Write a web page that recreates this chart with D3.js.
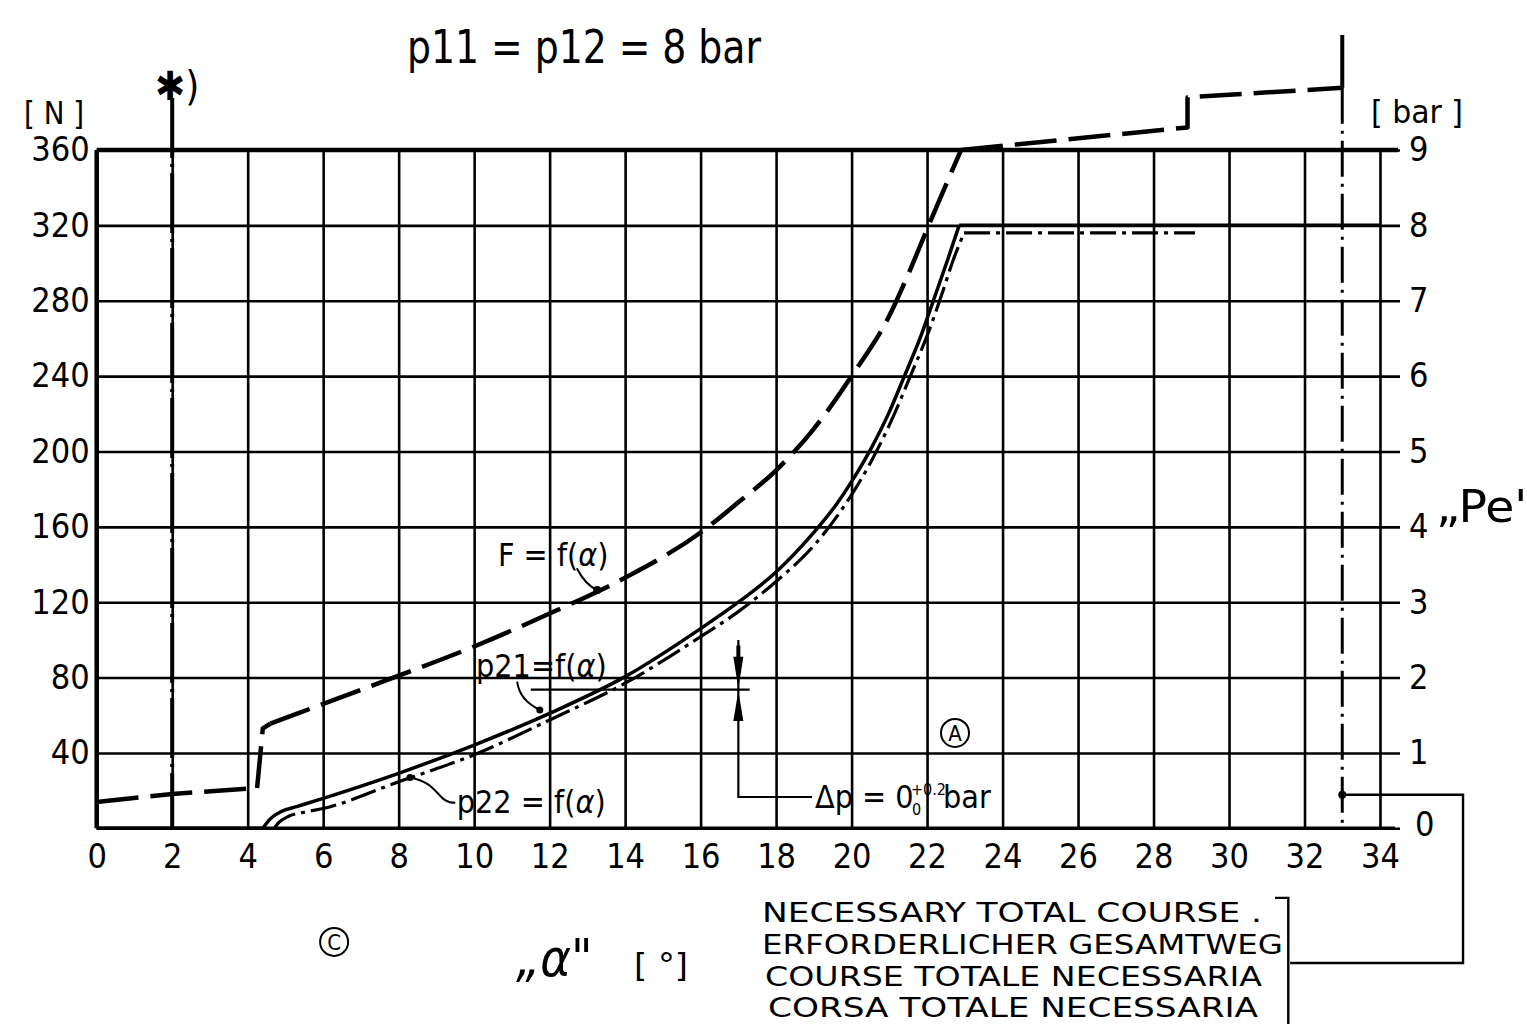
<!DOCTYPE html>
<html>
<head>
<meta charset="utf-8">
<script src="https://cdn.jsdelivr.net/npm/d3@7/dist/d3.min.js"></script>
<style>
  body { margin: 0; background: #fff; }
  svg text { font-family: "DejaVu Sans Condensed", "DejaVu Sans", sans-serif; font-stretch: condensed; fill: #000; }
</style>
</head>
<body>
<div id="chart"></div>
<script>

// tick labels
var alphaTicks = [0, 2, 4, 6, 8, 10, 12, 14, 16, 18, 20, 22, 24, 26, 28, 30, 32, 34];
var forceTicks = [40, 80, 120, 160, 200, 240, 280, 320, 360];
var barTicks = [0, 1, 2, 3, 4, 5, 6, 7, 8, 9];

// F = f(alpha)  [N]
var fLowAlpha = [0, 2, 4.25];
var fLowForce = [14, 18.2, 21.4];
var fRiseAlpha = [4.25, 4.4, 4.6];
var fRiseForce = [21.4, 53, 55.5];
var fCurveAlpha = [4.6, 6, 8, 10, 12, 14, 16, 17, 18, 19, 20, 21, 21.5, 22, 22.9];
var fCurveForce = [55.5, 66, 81, 96.5, 114, 133, 157, 173, 190, 212, 240, 272, 294, 318, 360];
var fTopAlpha = [22.9, 28.9, 28.9, 33];
var fTopForce = [360, 372, 388, 393];

// p21 = f(alpha)  (40 N grid = 1 bar)
var p21LowAlpha = [0, 4.4];
var p21LowForce = [0, 0];
var p21CurveAlpha = [4.4, 4.6, 4.9, 5.3, 6, 8, 10, 12, 14, 16, 17, 18, 19, 19.6, 20, 20.5, 21, 21.4, 21.85, 22.2, 22.55, 22.85];
var p21CurveForce = [0, 5, 9, 11.5, 15.9, 29.2, 44.2, 61, 80.5, 106, 120, 136, 157, 172, 184, 201, 221, 240, 262, 282, 302, 320];
var p21TopAlpha = [22.85, 34];
var p21TopForce = [320, 320];

// p22 = f(alpha)
var p22CurveAlpha = [4.7, 4.85, 5.1, 5.5, 6, 8, 10, 12, 14, 16, 17, 18, 19, 19.7, 20, 20.5, 21, 21.6, 22.05, 22.4, 22.7, 22.98];
var p22CurveForce = [0, 3.5, 6.5, 8.5, 10.5, 24.7, 39, 57.5, 77, 101.7, 115, 131, 150, 168, 177, 194, 214, 242, 264, 284, 302, 316];
var p22TopAlpha = [22.98, 29.1];
var p22TopForce = [316, 316];

// caption lines
var captionLines = ['NECESSARY  TOTAL  COURSE .', 'ERFORDERLICHER  GESAMTWEG', 'COURSE TOTALE NECESSARIA', 'CORSA  TOTALE NECESSARIA'];

var width = 1527,
    height = 1024;

var xS = d3.scaleLinear().domain([0, 34]).range([96.7, 1380]);
var yS = d3.scaleLinear().domain([0, 360]).range([828.3, 150]);
var yBar = d3.scaleLinear().domain([0, 9]).range([828.3, 150]);

var svg = d3.select('#chart')
  .append('svg')
  .attr('width', width)
  .attr('height', height);

// vertical grid + alpha labels
var gx = svg.append('g')
  .attr('transform', 'translate(0,' + yS(0) + ')')
  .call(d3.axisBottom(xS).tickValues(alphaTicks).tickSize(yS(360) - yS(0)).tickPadding(16).tickFormat(d3.format('d')));
gx.select('.domain').remove();
gx.selectAll('line').attr('stroke', '#000').attr('stroke-width', 2.6);
gx.selectAll('text').attr('font-size', 34);

// horizontal grid + bar labels on the right
var gy = svg.append('g')
  .attr('transform', 'translate(' + xS(0) + ',0)')
  .call(d3.axisRight(yBar).tickValues(barTicks).tickSize(1400 - xS(0)).tickPadding(9).tickFormat(d3.format('d')));
gy.select('.domain').remove();
gy.selectAll('line').attr('stroke', '#000').attr('stroke-width', 2.6);
gy.selectAll('text').attr('font-size', 34);
gy.selectAll('.tick').filter(function(d) { return d == 0; })
  .select('text').attr('dx', 6).attr('dy', '0.2em');

// force labels on the left
var gl = svg.append('g')
  .attr('transform', 'translate(' + xS(0) + ',0)')
  .call(d3.axisLeft(yS).tickValues(forceTicks).tickSize(0).tickPadding(7));
gl.select('.domain').remove();
gl.selectAll('text').attr('font-size', 34);

// borders
svg.append('line')
  .attr('x1', xS(0)).attr('x2', xS(0))
  .attr('y1', yS(360)).attr('y2', yS(0))
  .attr('stroke', '#000').attr('stroke-width', 4.5);
svg.append('line')
  .attr('x1', xS(0)).attr('x2', 1398)
  .attr('y1', yS(360)).attr('y2', yS(360))
  .attr('stroke', '#000').attr('stroke-width', 4.5);
svg.append('line')
  .attr('x1', xS(0)).attr('x2', 1395)
  .attr('y1', yS(0)).attr('y2', yS(0))
  .attr('stroke', '#000').attr('stroke-width', 3.5);

// vertical marker at alpha = 2
svg.append('line')
  .attr('x1', xS(2)).attr('x2', xS(2))
  .attr('y1', 98).attr('y2', yS(0))
  .attr('stroke', '#000').attr('stroke-width', 4)
  .attr('stroke-dasharray', '60,6,3,6');

// vertical marker at alpha = 33 (total course)
svg.append('line')
  .attr('x1', xS(33)).attr('x2', xS(33))
  .attr('y1', 35).attr('y2', yS(393))
  .attr('stroke', '#000').attr('stroke-width', 4);
svg.append('line')
  .attr('x1', xS(33)).attr('x2', xS(33))
  .attr('y1', yS(393)).attr('y2', yS(0))
  .attr('stroke', '#000').attr('stroke-width', 3)
  .attr('stroke-dasharray', '36,7,3,7');

var line = (curve) => d3.line()
  .x(function(d) { return xS(d[0]); })
  .y(function(d) { return yS(d[1]); })
  .curve(curve);

var drawSeries = (pieces, style) => {
  pieces.forEach(function(p) {
    svg.append('path')
      .datum(d3.zip(p[0], p[1]))
      .attr('d', line(p[2]))
      .attr('fill', 'none')
      .attr('stroke', '#000')
      .attr('stroke-width', style.w)
      .attr('stroke-linejoin', 'round')
      .attr('stroke-dasharray', style.dash);
  });
};

drawSeries([
  [fLowAlpha, fLowForce, d3.curveLinear],
  [fRiseAlpha, fRiseForce, d3.curveLinear],
  [fCurveAlpha, fCurveForce, d3.curveMonotoneX],
  [fTopAlpha, fTopForce, d3.curveLinear]
], {w: 4.5, dash: '42,12'});

drawSeries([
  [p21LowAlpha, p21LowForce, d3.curveLinear],
  [p21CurveAlpha, p21CurveForce, d3.curveMonotoneX],
  [p21TopAlpha, p21TopForce, d3.curveLinear]
], {w: 3.5, dash: null});

drawSeries([
  [p22CurveAlpha, p22CurveForce, d3.curveMonotoneX],
  [p22TopAlpha, p22TopForce, d3.curveLinear]
], {w: 3.2, dash: '26,6,4,6'});

// tolerance marker (delta p)
var mx = xS(17);
svg.append('line')
  .attr('x1', xS(11.5)).attr('x2', xS(17.3))
  .attr('y1', yS(73.6)).attr('y2', yS(73.6))
  .attr('stroke', '#000').attr('stroke-width', 2.2);
svg.append('path')
  .attr('d', 'M' + mx + ',' + yS(100) + 'V' + yS(16.6) + 'H' + xS(18.95))
  .attr('fill', 'none').attr('stroke', '#000').attr('stroke-width', 2.2);
svg.append('path')
  .attr('d', 'M' + (mx - 5) + ',' + yS(91) + 'L' + (mx + 5) + ',' + yS(91) + 'L' + mx + ',' + (yS(73.6) - 1) + 'Z')
  .attr('fill', '#000');
svg.append('path')
  .attr('d', 'M' + (mx - 5) + ',' + yS(57) + 'L' + (mx + 5) + ',' + yS(57) + 'L' + mx + ',' + (yS(73.6) + 1) + 'Z')
  .attr('fill', '#000');
svg.append('line')
  .attr('x1', mx).attr('x2', mx)
  .attr('y1', yS(97)).attr('y2', yS(89))
  .attr('stroke', '#000').attr('stroke-width', 4);

// leader lines
svg.append('path')
  .attr('d', 'M' + xS(12.72) + ',' + yS(138) + 'Q' + xS(12.95) + ',' + yS(129) + ' ' + xS(13.26) + ',' + yS(126.5))
  .attr('fill', 'none').attr('stroke', '#000').attr('stroke-width', 2);
svg.append('circle').attr('cx', xS(13.26)).attr('cy', yS(126.5)).attr('r', 4);
svg.append('path')
  .attr('d', 'M' + xS(11.14) + ',' + yS(77.8) + 'Q' + xS(11.2) + ',' + yS(68) + ' ' + xS(11.74) + ',' + yS(62.8))
  .attr('fill', 'none').attr('stroke', '#000').attr('stroke-width', 2);
svg.append('circle').attr('cx', xS(11.74)).attr('cy', yS(62.8)).attr('r', 3.5);
svg.append('path')
  .attr('d', 'M' + xS(9.5) + ',' + yS(13.5) + 'C' + xS(9.0) + ',' + yS(13.5) + ' ' + xS(9.1) + ',' + yS(24) + ' ' + xS(8.3) + ',' + yS(27))
  .attr('fill', 'none').attr('stroke', '#000').attr('stroke-width', 2);
svg.append('circle').attr('cx', xS(8.3)).attr('cy', yS(27)).attr('r', 3.5);

// total course box
svg.append('path')
  .attr('d', 'M' + xS(33) + ',' + yS(17.8) + 'H' + xS(36.2) + 'V' + yS(-71.5) + 'H' + xS(31.62))
  .attr('fill', 'none').attr('stroke', '#000').attr('stroke-width', 2.4);
svg.append('circle').attr('cx', xS(33)).attr('cy', yS(17.8)).attr('r', 4);
svg.append('path')
  .attr('d', 'M' + xS(31.22) + ',' + yS(-36.9) + 'H' + xS(31.57) + 'V' + 1024)
  .attr('fill', 'none').attr('stroke', '#000').attr('stroke-width', 2.4);

// texts
var txt = (x, y, s, size, len) => {
  var t = svg.append('text').attr('x', x).attr('y', y).attr('font-size', size).text(s);
  if (len) t.attr('textLength', len).attr('lengthAdjust', 'spacingAndGlyphs');
  return t;
};

// label with italic alpha: pre + α + post
var fLabel = (x, y, pre, size) => {
  var t = svg.append('text').attr('x', x).attr('y', y).attr('font-size', size);
  t.append('tspan').text(pre);
  t.append('tspan').attr('font-style', 'italic').text('α');
  t.append('tspan').text(')');
  return t;
};

txt(407, 63, 'p11 = p12 = 8 bar', 46, 354);
txt(24, 124, '[ N ]', 32, 60);
txt(1371, 123, '[ bar ]', 32, 92);
svg.append('text').attr('x', 155).attr('y', 100).attr('font-size', 40)
  .style('font-family', 'DejaVu Sans').text('✱)');
txt(1436, 522, '„Pe"', 44, 100);

fLabel(xS(10.63), yS(139), 'F = f(', 32);
fLabel(xS(10.05), yS(80.3), 'p21=f(', 32);
fLabel(xS(9.54), yS(8.1), 'p22 = f(', 32);

// delta p with stacked tolerance
var dpX = xS(19.03), dpY = yS(10.9);
txt(dpX, dpY, 'Δp = 0', 32);
txt(dpX + 96, dpY - 13, '+0.2', 16);
txt(dpX + 97, dpY + 7, '0', 16);
txt(dpX + 128, dpY, 'bar', 32);

// circled letters
[['A', 22.74, 50.6], ['C', 6.29, -60.3]].forEach(function(c) {
  svg.append('circle').attr('cx', xS(c[1])).attr('cy', yS(c[2])).attr('r', 14)
    .attr('fill', 'none').attr('stroke', '#000').attr('stroke-width', 2);
  svg.append('text').attr('x', xS(c[1])).attr('y', yS(c[2]) + 8)
    .attr('text-anchor', 'middle').attr('font-size', 22).text(c[0]);
});

// x axis title
svg.append('text').attr('x', 516).attr('y', 976).attr('font-size', 52)
  .attr('font-style', 'italic').text('„α"');
txt(634, 976, '[ °]', 32, 54);

// total course caption
var capX = [762, 762, 765, 768],
    capY = [922, 954, 986, 1017],
    capLen = [500, 521, 497, 490];
captionLines.forEach(function(s, i) {
  txt(capX[i], capY[i], s, 27, capLen[i]);
});

</script>
</body>
</html>
